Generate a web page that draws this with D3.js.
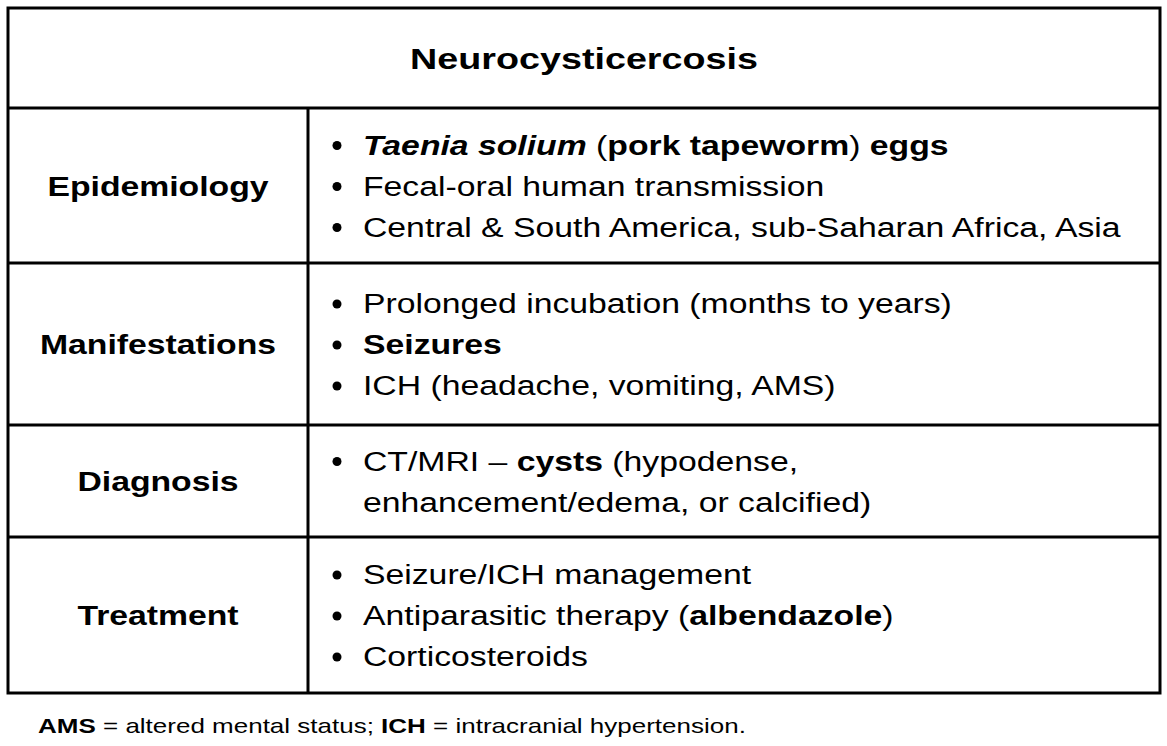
<!DOCTYPE html>
<html>
<head>
<meta charset="utf-8">
<script src="https://cdn.jsdelivr.net/npm/d3@7"></script>
<style>
  body { margin: 0; background: #fff; }
  text { font-family: "Liberation Sans", Arial, sans-serif; fill: #000; }
</style>
</head>
<body>
<div id="table"></div>
<script>
// table content
var title = "Neurocysticercosis";
var rowLabels = ["Epidemiology", "Manifestations", "Diagnosis", "Treatment"];
// each bullet line is a list of [text, style]; style: n = normal, b = bold, bi = bold italic, c = continuation (no bullet)
var rowLines = [
  [
    [["Taenia solium", "bi"], [" (", "n"], ["pork tapeworm", "b"], [") ", "n"], ["eggs", "b"]],
    [["Fecal-oral human transmission", "n"]],
    [["Central & South America, sub-Saharan Africa, Asia", "n"]]
  ],
  [
    [["Prolonged incubation (months to years)", "n"]],
    [["Seizures", "b"]],
    [["ICH (headache, vomiting, AMS)", "n"]]
  ],
  [
    [["CT/MRI – ", "n"], ["cysts", "b"], [" (hypodense,", "n"]],
    [["enhancement/edema, or calcified)", "c"]]
  ],
  [
    [["Seizure/ICH management", "n"]],
    [["Antiparasitic therapy (", "n"], ["albendazole", "b"], [")", "n"]],
    [["Corticosteroids", "n"]]
  ]
];
// row boundaries in pixels (title row first)
var rowEdges = [8, 108, 263, 425, 537, 693];
var footnote = [["AMS", "b"], [" = altered mental status; ", "n"], ["ICH", "b"], [" = intracranial hypertension.", "n"]];

var width = 1167, height = 746;
var left = 8, right = 1160, colSplit = 308;
var lineGap = 41;
var stretch = 1.25; // glyphs in the reference are wider than they are tall

var svg = d3.select("#table").append("svg")
  .attr("width", width).attr("height", height);

// borders
svg.append("rect")
  .attr("x", left).attr("y", rowEdges[0])
  .attr("width", right - left).attr("height", rowEdges[5] - rowEdges[0])
  .attr("fill", "none").attr("stroke", "#000").attr("stroke-width", 3);

rowEdges.slice(1, 5).forEach(function(y) {
  svg.append("line").attr("x1", left).attr("x2", right)
    .attr("y1", y).attr("y2", y).attr("stroke", "#000").attr("stroke-width", 3);
});
svg.append("line").attr("x1", colSplit).attr("x2", colSplit)
  .attr("y1", rowEdges[1]).attr("y2", rowEdges[5])
  .attr("stroke", "#000").attr("stroke-width", 3);

// stretched text placed at x,y
function stretchedText(x, y, sx) {
  return svg.append("g")
    .attr("transform", "translate(" + x + "," + y + ") scale(" + sx + ",1)")
    .append("text");
}

function addSegments(t, segs) {
  segs.forEach(function(s) {
    t.append("tspan")
      .attr("font-weight", s[1] === "b" || s[1] === "bi" ? "bold" : "normal")
      .attr("font-style", s[1] === "bi" ? "italic" : "normal")
      .text(s[0]);
  });
}

// title
stretchedText((left + right) / 2, (rowEdges[0] + rowEdges[1]) / 2 + 11, 1.3)
  .attr("text-anchor", "middle").attr("font-size", 29).attr("font-weight", "bold")
  .text(title);

rowLabels.forEach(function(label, i) {
  var top = rowEdges[i + 1], bottom = rowEdges[i + 2];
  var mid = (top + bottom) / 2;
  stretchedText((left + colSplit) / 2, mid + 10, stretch)
    .attr("text-anchor", "middle").attr("font-size", 27).attr("font-weight", "bold")
    .text(label);

  var lines = rowLines[i];
  var firstY = mid - (lines.length - 1) * lineGap / 2;
  lines.forEach(function(segs, j) {
    var y = firstY + j * lineGap + 10;
    if (segs[0][1] !== "c") {
      svg.append("circle").attr("cx", 337).attr("cy", y - 9).attr("r", 4.5).attr("fill", "#000");
    }
    var t = stretchedText(363, y, stretch).attr("font-size", 27);
    addSegments(t, segs);
  });
});

var fn = stretchedText(38, 733, 1.3).attr("font-size", 20);
addSegments(fn, footnote);
</script>
</body>
</html>
